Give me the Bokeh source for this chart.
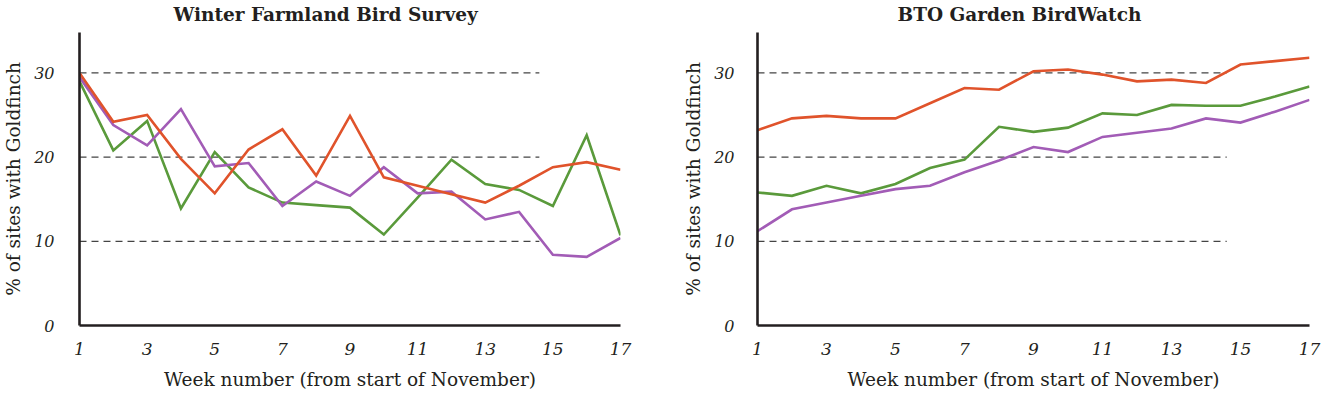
from bokeh.plotting import figure
from bokeh.layouts import row
from bokeh.models import Title, FixedTicker, Range1d
from bokeh.embed import file_html
from bokeh.resources import INLINE

weeks = list(range(1, 18))
x_ticks = [1, 3, 5, 7, 9, 11, 13, 15, 17]
y_ticks = [0, 10, 20, 30]
ref_levels = [10, 20, 30]

titles = ["Winter Farmland Bird Survey", "BTO Garden BirdWatch"]
x_title = "Week number (from start of November)"
y_title = "% of sites with Goldfinch"

wfbs_orange = [30.0, 24.2, 25.0, 19.8, 15.7, 20.9, 23.3, 17.8, 24.9, 17.6, 16.6, 15.6, 14.6, 16.6, 18.8, 19.4, 18.5]
wfbs_green = [29.0, 20.8, 24.3, 13.9, 20.6, 16.4, 14.6, 14.3, 14.0, 10.8, 15.2, 19.7, 16.8, 16.1, 14.2, 22.6, 10.7]
wfbs_purple = [29.5, 23.8, 21.4, 25.7, 18.9, 19.3, 14.2, 17.1, 15.4, 18.8, 15.7, 15.9, 12.6, 13.5, 8.4, 8.15, 10.4]

gbw_orange = [23.2, 24.6, 24.9, 24.6, 24.6, 26.4, 28.2, 28.0, 30.2, 30.4, 29.8, 29.0, 29.2, 28.8, 31.0, 31.4, 31.8]
gbw_green = [15.8, 15.4, 16.6, 15.7, 16.8, 18.7, 19.7, 23.6, 23.0, 23.5, 25.2, 25.0, 26.2, 26.1, 26.1, 27.2, 28.4]
gbw_purple = [11.2, 13.8, 14.6, 15.4, 16.2, 16.6, 18.2, 19.6, 21.2, 20.6, 22.4, 22.9, 23.4, 24.6, 24.1, 25.4, 26.8]

ORANGE = "#E0532B"
GREEN = "#5A9A3B"
PURPLE = "#A25CB6"
INK = "#231F20"
SERIF = "DejaVu Serif"


def make_panel(title, green, purple, orange, width, bl, br, lab_standoff, title_standoff, title_offset):
    p = figure(width=width, height=393, output_backend="svg", toolbar_location=None, title=None,
               x_range=Range1d(1, 17), y_range=Range1d(0, 34.8),
               min_border_left=bl, min_border_right=br, min_border_top=32, min_border_bottom=68)
    p.outline_line_color = None
    p.xgrid.grid_line_color = None
    p.ygrid.grid_line_color = None
    p.background_fill_color = "white"

    # small spacer between the frame and the title
    p.add_layout(Title(text=" ", text_font_size="1px", standoff=5), "above")
    p.add_layout(Title(text=title, align="left", offset=title_offset, standoff=0,
                       text_font=SERIF, text_font_style="bold", text_font_size="18.5px",
                       text_color=INK), "above")

    # dashed reference lines
    p.segment(x0=[1] * len(ref_levels), x1=[14.6] * len(ref_levels), y0=ref_levels, y1=ref_levels,
              line_color="#444444", line_width=1.3, line_dash="7 5")

    for series, col in ((green, GREEN), (purple, PURPLE), (orange, ORANGE)):
        p.line(weeks, series, line_color=col, line_width=2.6, line_join="miter")

    for ax in (p.xaxis[0], p.yaxis[0]):
        ax.axis_line_color = INK
        ax.axis_line_width = 2.6
        ax.major_tick_line_color = None
        ax.minor_tick_line_color = None
        ax.major_label_text_font = SERIF
        ax.major_label_text_font_style = "italic"
        ax.major_label_text_color = INK
        ax.axis_label_text_font = SERIF
        ax.axis_label_text_font_style = "normal"
        ax.axis_label_text_color = INK
        ax.axis_label_text_font_size = "18.5px"

    p.xaxis.ticker = FixedTicker(ticks=x_ticks)
    p.yaxis.ticker = FixedTicker(ticks=y_ticks)
    p.xaxis.major_label_text_font_size = "17px"
    p.yaxis.major_label_text_font_size = "16px"
    p.xaxis.major_label_standoff = 11
    p.yaxis.major_label_standoff = lab_standoff
    p.xaxis.axis_label = x_title
    p.yaxis.axis_label = y_title
    p.xaxis.axis_label_standoff = 11
    p.yaxis.axis_label_standoff = title_standoff
    return p


left = make_panel(titles[0], wfbs_green, wfbs_purple, wfbs_orange, 652, 75, 32, 19, 7, 94)
right = make_panel(titles[1], gbw_green, gbw_purple, gbw_orange, 670, 105, 13, 17, 7, 140)

layout = row(left, right)
open("out.html", "w").write(file_html(layout, INLINE))
